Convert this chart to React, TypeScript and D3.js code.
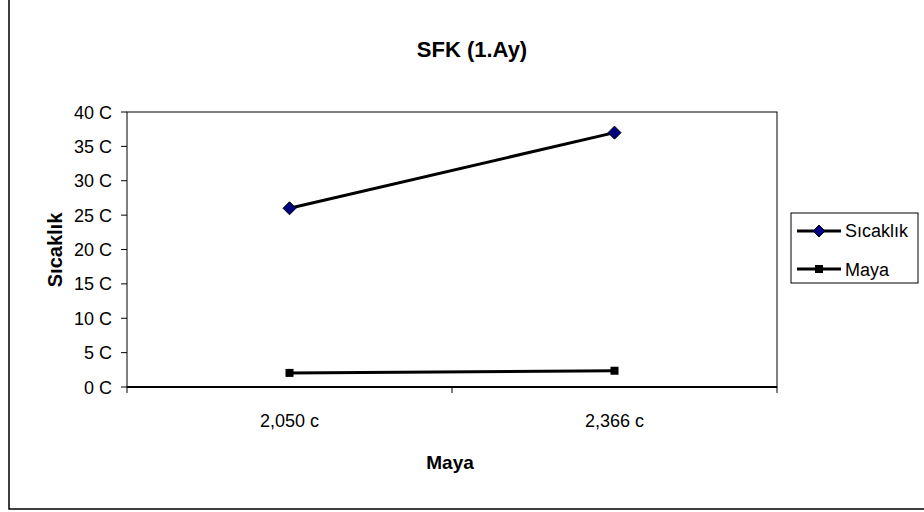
import React from "react";
import * as d3 from "d3";

const categories = ["2,050 c", "2,366 c"];
const sicaklik = [26, 37];
const maya = [2.05, 2.366];
const yTicks = [0, 5, 10, 15, 20, 25, 30, 35, 40];

export default function App() {
  const W = 924, H = 512;
  const pl = 127, pr = 777, pt = 112, pb = 387;
  const x = d3.scaleBand().domain(categories).range([pl, pr]);
  const y = d3.scaleLinear().domain([0, 40]).range([pb, pt]);
  const line = d3.line<number>().x((_, i) => x(categories[i])! + x.bandwidth() / 2).y(d => y(d));
  const font = "'Liberation Sans', Arial, sans-serif";
  const diamond = (cx: number, cy: number, r: number) =>
    `M${cx},${cy - r}L${cx + r},${cy}L${cx},${cy + r}L${cx - r},${cy}Z`;
  return (
    <svg width={W} height={H} style={{ position: "absolute", left: 0, top: 0 }} fontFamily={font}>
      <rect x={0} y={0} width={W} height={H} fill="#fff" />
      <rect x={9} y={-5} width={W + 10} height={514} fill="none" stroke="#000" strokeWidth={1.5} />
      <text x={472} y={57} textAnchor="middle" fontSize={22} fontWeight="bold">SFK (1.Ay)</text>
      {/* plot border */}
      <rect x={pl} y={pt} width={pr - pl} height={pb - pt} fill="none" stroke="#000" strokeWidth={1} />
      <line x1={pl} x2={pr} y1={pb} y2={pb} stroke="#000" strokeWidth={2} />
      {yTicks.map(t => (
        <g key={t}>
          <line x1={pl - 6} x2={pl} y1={y(t)} y2={y(t)} stroke="#000" />
          <text x={112} y={y(t) + 6.5} textAnchor="end" fontSize={18}>{t} C</text>
        </g>
      ))}
      {[pl, pl + x.bandwidth(), pr].map((v, i) => (
        <line key={i} x1={v} x2={v} y1={pb} y2={pb + 6} stroke="#000" />
      ))}
      {categories.map(c => (
        <text key={c} x={x(c)! + x.bandwidth() / 2} y={427} textAnchor="middle" fontSize={18}>{c}</text>
      ))}
      <text x={450} y={469} textAnchor="middle" fontSize={19} fontWeight="bold">Maya</text>
      <text transform="translate(62,250) rotate(-90)" textAnchor="middle" fontSize={20} fontWeight="bold">Sıcaklık</text>
      <path d={line(sicaklik)!} fill="none" stroke="#000" strokeWidth={3} />
      <path d={line(maya)!} fill="none" stroke="#000" strokeWidth={3} />
      {sicaklik.map((v, i) => (
        <path key={i} d={diamond(x(categories[i])! + x.bandwidth() / 2, y(v), 6.5)} fill="#000080" stroke="#000" strokeWidth={1} />
      ))}
      {maya.map((v, i) => (
        <rect key={i} x={x(categories[i])! + x.bandwidth() / 2 - 4} y={y(v) - 4} width={8} height={8} fill="#000" />
      ))}
      {/* legend */}
      <rect x={791} y={213} width={127} height={70} fill="#fff" stroke="#000" strokeWidth={1} />
      <line x1={797} x2={841} y1={231} y2={231} stroke="#000" strokeWidth={3} />
      <path d={diamond(819, 231, 6)} fill="#000080" stroke="#000" />
      <text x={845} y={237} fontSize={18}>Sıcaklık</text>
      <line x1={797} x2={841} y1={269} y2={269} stroke="#000" strokeWidth={3} />
      <rect x={815} y={265} width={8} height={8} fill="#000" />
      <text x={845} y={276} fontSize={18}>Maya</text>
    </svg>
  );
}
